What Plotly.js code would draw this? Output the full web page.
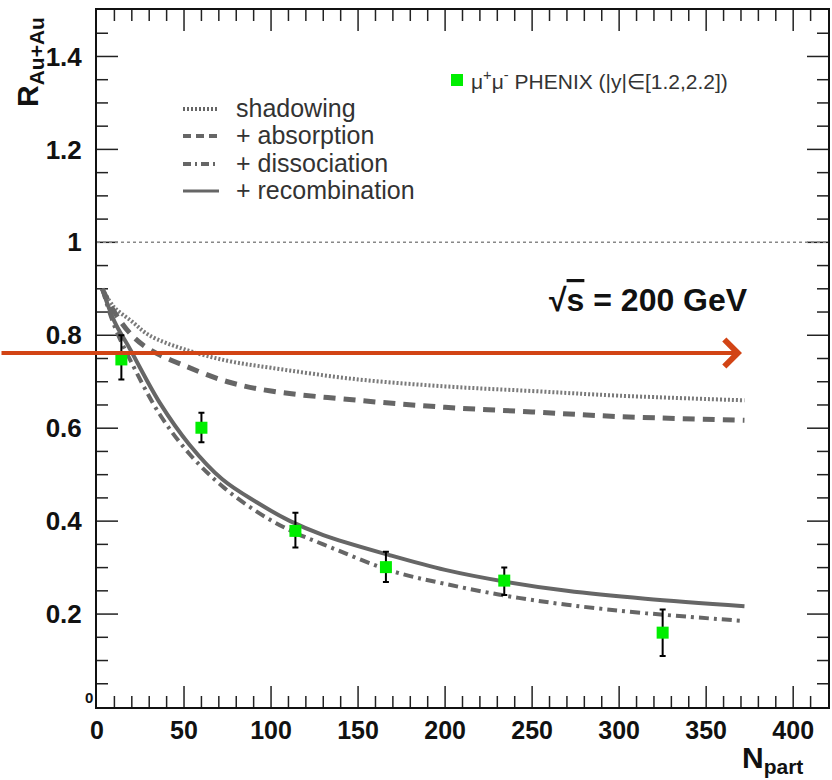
<!DOCTYPE html>
<html>
<head>
<meta charset="utf-8">
<script src="https://cdn.plot.ly/plotly-3.0.1.min.js"></script>
<style>body{margin:0;background:#fff}#chart{width:832px;height:780px}</style>
</head>
<body>
<div id="chart"></div>
<script>
// Model curves (N_part, R_AuAu)
const shadowN = [3, 10, 20, 30, 50, 75, 100, 150, 200, 250, 300, 372];
const shadowR = [0.90, 0.86, 0.83, 0.80, 0.77, 0.745, 0.73, 0.705, 0.69, 0.68, 0.67, 0.66];
const absorbN = [3, 10, 20, 30, 50, 75, 100, 150, 200, 250, 300, 372];
const absorbR = [0.90, 0.85, 0.80, 0.77, 0.735, 0.70, 0.68, 0.66, 0.645, 0.635, 0.625, 0.617];
const dissocN = [3, 10, 20, 36, 53, 72, 92, 111, 130, 170, 200, 234, 270, 315, 372];
const dissocR = [0.90, 0.82, 0.74, 0.63, 0.545, 0.475, 0.42, 0.38, 0.35, 0.292, 0.265, 0.24, 0.22, 0.202, 0.185];
const recombN = [3, 10, 19, 36, 53, 72, 92, 111, 130, 168, 200, 234, 270, 315, 372];
const recombR = [0.90, 0.83, 0.77, 0.655, 0.565, 0.49, 0.44, 0.40, 0.37, 0.327, 0.295, 0.27, 0.25, 0.233, 0.217];
// PHENIX data
const dataN = [14, 60, 114, 166, 234, 325];
const dataR = [0.748, 0.601, 0.379, 0.301, 0.272, 0.16];
const errUp = [0.052, 0.032, 0.039, 0.033, 0.028, 0.05];
const errDn = [0.043, 0.031, 0.036, 0.032, 0.031, 0.05];
// Axes
const xRange = [0, 420];
const yRange = [0, 1.5];
const xTickVals = [0, 50, 100, 150, 200, 250, 300, 350, 400];
const xTickText = ['0', '50', '100', '150', '200', '250', '300', '350', '400'];
const yTickVals = [0.2, 0.4, 0.6, 0.8, 1, 1.2, 1.4];
const yTickText = ['0.2', '0.4', '0.6', '0.8', '1', '1.2', '1.4'];
const xMinorStep = 10, yMinorStep = 0.05;
const legendLabels = ['shadowing', '+ absorption', '+ dissociation', '+ recombination'];

const gray = '#666666';
const FONT = 'Liberation Sans, Arial, Helvetica, sans-serif';
const plotL = 97, plotT = 10, plotW = 731, plotH = 697;
const px2x = p => (p - plotL) / plotW;
const py2y = p => (plotT + plotH - p) / plotH;

// Inside ticks on all four sides (ROOT style), built as one line trace
const MAJ = 21, MIN = 11;
const xPerPx = (xRange[1] - xRange[0]) / plotW, yPerPx = (yRange[1] - yRange[0]) / plotH;
const tickX = [], tickY = [];
const nX = Math.round(xRange[1] / xMinorStep);
for (let k = 1; k < nX; k++) {
  const v = k * xMinorStep;
  const len = ((v % 50 === 0) ? MAJ : MIN) * yPerPx;
  tickX.push(v, v, null, v, v, null);
  tickY.push(yRange[0], yRange[0] + len, null, yRange[1], yRange[1] - len, null);
}
const nY = Math.round(yRange[1] / yMinorStep);
for (let k = 1; k < nY; k++) {
  const v = +(k * yMinorStep).toFixed(3);
  const len = ((k % 4 === 0) ? MAJ : MIN) * xPerPx;
  tickX.push(xRange[0], xRange[0] + len, null, xRange[1], xRange[1] - len, null);
  tickY.push(v, v, null, v, v, null);
}

const traces = [
  {x: tickX, y: tickY, mode: 'lines', line: {color: '#222', width: 1.5}, hoverinfo: 'skip', connectgaps: false, cliponaxis: false},
  {x: shadowN, y: shadowR, mode: 'lines', line: {color: '#7a7a7a', width: 4, dash: '2px,2px', shape: 'spline'}, hoverinfo: 'skip'},
  {x: absorbN, y: absorbR, mode: 'lines', line: {color: gray, width: 5, dash: '12px,8px', shape: 'spline'}, hoverinfo: 'skip'},
  {x: dissocN, y: dissocR, mode: 'lines', line: {color: gray, width: 4, dash: '10px,5px,3px,5px', shape: 'spline'}, hoverinfo: 'skip'},
  {x: recombN, y: recombR, mode: 'lines', line: {color: gray, width: 4, shape: 'spline'}, hoverinfo: 'skip'},
  {x: dataN, y: dataR, mode: 'markers', marker: {symbol: 'square', color: '#00ee00', size: 12},
   error_y: {type: 'data', symmetric: false, array: errUp, arrayminus: errDn, color: '#000', thickness: 2, width: 3}}
];

const legendY = [109, 136, 164, 191];
const legendDash = ['2px,2px', '8px,5px', '8px,4px,2px,4px', 'solid'];
const legendW = [4, 4, 4, 3];

const shapes = [
  {type: 'line', xref: 'paper', yref: 'y', x0: 0, x1: 1, y0: 1, y1: 1, line: {color: '#888', width: 1.5, dash: '3px,3px'}}
];
const annotations = [];
legendLabels.forEach((t, i) => {
  shapes.push({type: 'line', xref: 'paper', yref: 'paper', x0: px2x(183), x1: px2x(219), y0: py2y(legendY[i]), y1: py2y(legendY[i]),
    line: {color: gray, width: legendW[i], dash: legendDash[i]}});
  annotations.push({xref: 'paper', yref: 'paper', x: px2x(234), y: py2y(legendY[i] - 1), xanchor: 'left', yanchor: 'middle',
    text: t, showarrow: false, font: {family: FONT, size: 25, color: '#333'}});
});
// PHENIX legend entry
shapes.push({type: 'rect', xref: 'paper', yref: 'paper', x0: px2x(451), x1: px2x(463), y0: py2y(86), y1: py2y(74),
  fillcolor: '#00ee00', line: {width: 0}});
annotations.push({xref: 'paper', yref: 'paper', x: px2x(469), y: py2y(80), xanchor: 'left', yanchor: 'middle',
  text: 'μ<sup>+</sup>μ<sup>-</sup> PHENIX (|y|∈[1.2,2.2])', showarrow: false, font: {family: FONT, size: 21, color: '#333'}});
// sqrt(s) label
annotations.push({xref: 'paper', yref: 'paper', x: px2x(547), y: py2y(300), xanchor: 'left', yanchor: 'middle',
  text: '<b>√<span style="text-decoration:overline">s</span> = 200 GeV</b>', showarrow: false, font: {family: FONT, size: 32, color: '#111'}});
// axis titles
annotations.push({xref: 'paper', yref: 'paper', x: px2x(30), y: py2y(62), xanchor: 'center', yanchor: 'middle', textangle: -90,
  text: 'R<sub>Au+Au</sub>', showarrow: false, font: {family: FONT, size: 30, color: '#111', weight: 'bold'}});
annotations.push({xref: 'paper', yref: 'paper', x: px2x(740), y: py2y(760), xanchor: 'left', yanchor: 'middle',
  text: 'N<sub>part</sub>', showarrow: false, font: {family: FONT, size: 30, color: '#111', weight: 'bold'}});
// small y "0"
annotations.push({xref: 'paper', yref: 'paper', x: px2x(89), y: py2y(697), xanchor: 'center', yanchor: 'middle',
  text: '<b>0</b>', showarrow: false, font: {family: FONT, size: 15, color: '#111'}});
// red arrow
annotations.push({xref: 'paper', yref: 'paper', x: px2x(742), y: py2y(353), ax: -742, ay: 0, axref: 'pixel', ayref: 'pixel',
  text: '', showarrow: true, arrowhead: 4, arrowsize: 1.3, arrowwidth: 4, arrowcolor: '#d24415', standoff: 0, startstandoff: 0});

const axisCommon = {
  showgrid: false, zeroline: false, showline: true, linecolor: '#111', linewidth: 2,
  mirror: true, ticks: '', tickmode: 'array'
};

const layout = {
  width: 832, height: 780,
  margin: {l: plotL, r: 832 - plotL - plotW, t: plotT, b: 780 - plotT - plotH},
  paper_bgcolor: '#fff', plot_bgcolor: '#fff',
  showlegend: false,
  font: {family: FONT, color: '#111'},
  xaxis: Object.assign({}, axisCommon, {
    range: xRange, tickvals: xTickVals, ticktext: xTickText,
    tickfont: {family: FONT, size: 25, color: '#111', weight: 'bold'}
  }),
  yaxis: Object.assign({}, axisCommon, {
    range: yRange, tickvals: yTickVals, ticktext: yTickText, ticklabelstandoff: 8,
    tickfont: {family: FONT, size: 26, color: '#111', weight: 'bold'}
  }),
  shapes: shapes,
  annotations: annotations
};

Plotly.newPlot('chart', traces, layout, {displayModeBar: false, staticPlot: true});
</script>
</body>
</html>
